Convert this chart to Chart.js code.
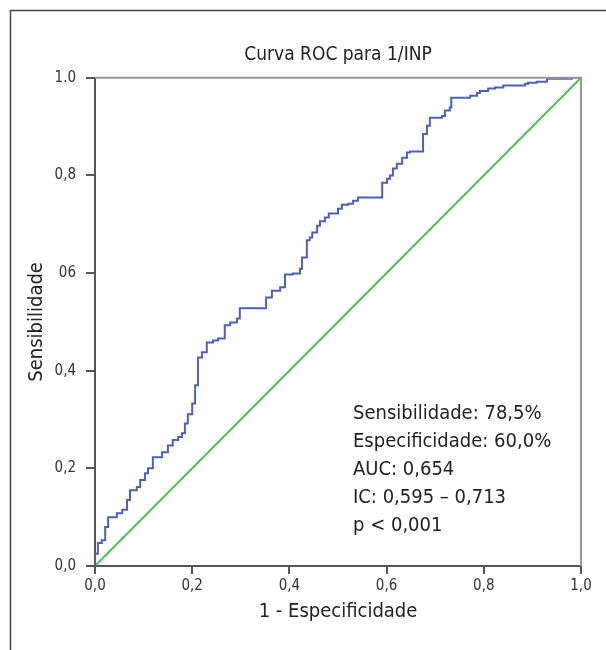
<!DOCTYPE html>
<html>
<head>
<meta charset="utf-8">
<script src="https://cdn.jsdelivr.net/npm/chart.js@4.4.0/dist/chart.umd.min.js"></script>
<style>
  body { margin: 0; background: #fff; }
  #wrap { width: 606px; height: 650px; position: relative; }
</style>
</head>
<body>
<div id="wrap"><canvas id="rocChart" width="606" height="650"></canvas></div>
<script>
// ROC curve (1 - specificity, sensitivity)
var fpr = [0, 0, 0.006, 0.014, 0.021, 0.027, 0.045, 0.056, 0.066, 0.072, 0.086, 0.093, 0.103, 0.109, 0.119,
    0.138, 0.150, 0.160, 0.171, 0.179, 0.185, 0.191, 0.200, 0.206, 0.212, 0.220, 0.230, 0.243, 0.253, 0.267,
    0.278, 0.292, 0.298, 0.352, 0.364, 0.381, 0.391, 0.407, 0.422, 0.426, 0.436, 0.442, 0.447, 0.457, 0.463,
    0.473, 0.481, 0.500, 0.508, 0.521, 0.531, 0.541, 0.591, 0.601, 0.607, 0.613, 0.621, 0.632, 0.642, 0.648,
    0.675, 0.683, 0.689, 0.714, 0.720, 0.730, 0.733, 0.772, 0.786, 0.792, 0.809, 0.823, 0.840, 0.885, 0.891,
    0.909, 0.930, 0.981, 1.0];
var tpr = [0, 0.025, 0.047, 0.053, 0.080, 0.100, 0.108, 0.115, 0.135, 0.155, 0.162, 0.176, 0.190, 0.200, 0.223,
    0.233, 0.247, 0.258, 0.264, 0.272, 0.292, 0.311, 0.333, 0.370, 0.427, 0.438, 0.458, 0.462, 0.466, 0.493,
    0.499, 0.507, 0.528, 0.550, 0.564, 0.571, 0.597, 0.599, 0.609, 0.632, 0.667, 0.673, 0.683, 0.697, 0.706,
    0.714, 0.722, 0.732, 0.740, 0.742, 0.748, 0.755, 0.785, 0.793, 0.800, 0.814, 0.824, 0.836, 0.847, 0.849,
    0.885, 0.902, 0.918, 0.922, 0.933, 0.939, 0.959, 0.963, 0.969, 0.973, 0.978, 0.980, 0.984, 0.988, 0.990,
    0.992, 0.998, 1.0, 1.0];

// reference line
var refX = [0, 1];
var refY = [0, 1];

var xTickLabels = ['0,0', '0,2', '0,4', '0,6', '0,8', '1,0'];
var yTickLabels = ['0,0', '0,2', '0,4', '06', '0,8', '1.0'];

var statsLines = ['Sensibilidade: 78,5%', 'Especificidade: 60,0%', 'AUC: 0,654', 'IC: 0,595 \u2013 0,713', 'p < 0,001'];

var FONT = '"Liberation Sans Narrow", "DejaVu Sans Condensed", "Roboto Condensed", sans-serif';

function toPoints(xs, ys) {
    return xs.map(function (x, i) { return { x: x, y: ys[i] }; });
}

function tickIndex(v) {
    return Math.round(v / 0.2);
}

// outer frame (left and top only) + stats text
var extras = {
    id: 'extras',
    beforeDraw: function (chart) {
        var c = chart.ctx;
        c.save();
        c.strokeStyle = '#444';
        c.lineWidth = 1.5;
        c.beginPath();
        c.moveTo(10.5, 650);
        c.lineTo(10.5, 10.5);
        c.lineTo(606, 10.5);
        c.stroke();
        c.restore();
    },
    afterDatasetsDraw: function (chart) {
        var c = chart.ctx;
        var a = chart.chartArea;
        c.save();
        c.strokeStyle = '#999';
        c.lineWidth = 2;
        c.beginPath();
        c.moveTo(a.left, a.top);
        c.lineTo(a.right, a.top);
        c.lineTo(a.right, a.bottom);
        c.stroke();
        c.fillStyle = '#222';
        c.font = '20px ' + FONT;
        c.textBaseline = 'middle';
        c.textAlign = 'left';
        statsLines.forEach(function (t, i) {
            c.fillText(t, a.left + 258, a.top + 336 + i * 28);
        });
        c.restore();
    }
};

var ctx = document.getElementById('rocChart').getContext('2d');
var chart = new Chart(ctx, {
    type: 'scatter',
    data: {
        datasets: [
            {
                label: 'ROC',
                data: toPoints(fpr, tpr),
                showLine: true,
                stepped: 'before',
                borderColor: '#4a62b8',
                borderWidth: 2,
                pointRadius: 0,
                fill: false
            },
            {
                label: 'Referencia',
                data: toPoints(refX, refY),
                showLine: true,
                borderColor: '#4cc25a',
                borderWidth: 2,
                pointRadius: 0,
                fill: false
            }
        ]
    },
    options: {
        responsive: false,
        animation: false,
        layout: { padding: { left: 0, right: 25, top: 0, bottom: 0 } },
        plugins: {
            legend: { display: false },
            tooltip: { enabled: false },
            title: {
                display: true,
                fullSize: false,
                text: 'Curva ROC para 1/INP',
                color: '#222',
                font: { family: FONT, size: 19, weight: 'normal' },
                padding: { top: 44, bottom: 11 }
            }
        },
        scales: {
            x: {
                type: 'linear',
                min: 0,
                max: 1,
                afterFit: function (s) { s.height = 84; },
                afterBuildTicks: function (s) {
                    s.ticks = xTickLabels.map(function (l, i) { return { value: i * 0.2 }; });
                },
                ticks: {
                    color: '#333',
                    font: { family: FONT, size: 15 },
                    padding: 3,
                    maxRotation: 0,
                    callback: function (v) { return xTickLabels[tickIndex(v)]; }
                },
                grid: { drawOnChartArea: false, drawTicks: true, tickLength: 8, color: '#555', lineWidth: 2 },
                border: { display: true, color: '#555', width: 2 },
                title: {
                    display: true,
                    text: '1 - Especificidade',
                    color: '#222',
                    font: { family: FONT, size: 20 },
                    padding: { top: 0, bottom: 26 }
                }
            },
            y: {
                type: 'linear',
                min: 0,
                max: 1,
                afterFit: function (s) { s.width = 95; },
                afterBuildTicks: function (s) {
                    s.ticks = yTickLabels.map(function (l, i) { return { value: i * 0.2 }; });
                },
                ticks: {
                    color: '#333',
                    font: { family: FONT, size: 15 },
                    padding: 10,
                    callback: function (v) { return yTickLabels[tickIndex(v)]; }
                },
                grid: { drawOnChartArea: false, drawTicks: true, tickLength: 9, color: '#555', lineWidth: 2 },
                border: { display: true, color: '#555', width: 2 },
                title: {
                    display: true,
                    text: 'Sensibilidade',
                    color: '#222',
                    font: { family: FONT, size: 20 },
                    padding: { top: 25, bottom: 0 }
                }
            }
        }
    },
    plugins: [extras]
});
</script>
</body>
</html>
